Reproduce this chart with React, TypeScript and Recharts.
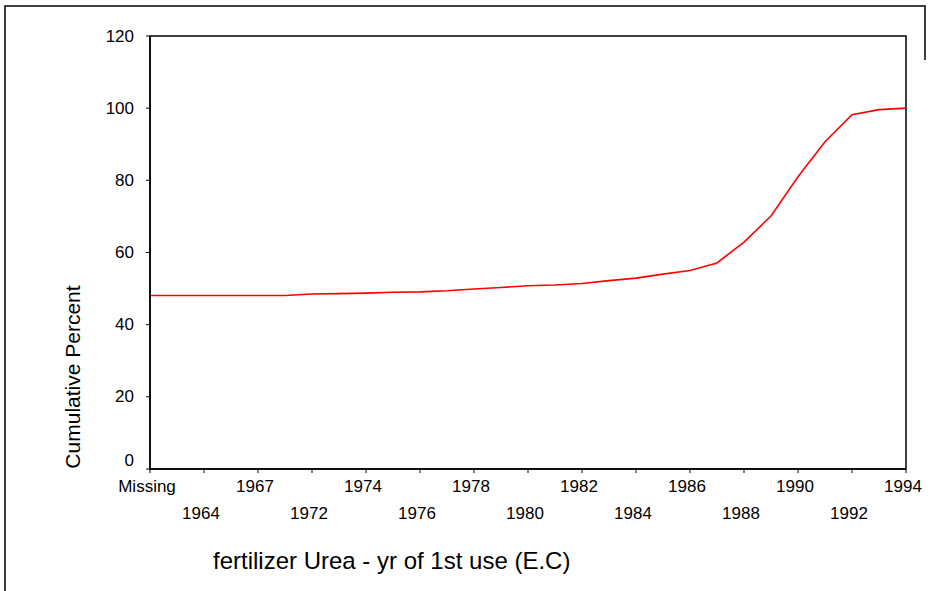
import React from 'react';
import { LineChart, Line, XAxis, YAxis, ReferenceArea } from 'recharts';

const categories = [
  'Missing', '1962', '1964', '1966', '1967', '1970',
  '1972', '1973', '1974', '1975', '1976', '1977', '1978', '1979', '1980',
  '1981', '1982', '1983', '1984', '1985', '1986', '1987', '1988', '1989',
  '1990', '1991', '1992', '1993', '1994',
];

const cumulativePercent = [
  48.1, 48.1, 48.1, 48.1, 48.1, 48.1,
  48.5, 48.6, 48.75, 49.0, 49.1, 49.4, 49.9, 50.3, 50.8,
  51.0, 51.4, 52.2, 52.9, 54.0, 55.0, 57.1, 62.9, 70.1,
  81.0, 90.7, 98.2, 99.6, 100,
];

const yTicks = [0, 20, 40, 60, 80, 100, 120];

const xTitle = 'fertilizer Urea - yr of 1st use (E.C)';
const yTitle = 'Cumulative Percent';

const data = categories.map((c, i) => ({ year: c, pct: cumulativePercent[i] }));

const FONT = '"Liberation Sans", Arial, sans-serif';

const XTick = (props: any) => {
  const { x, y, payload } = props;
  const idx = categories.indexOf(payload.value);
  const row = (idx / 2) % 2 === 0 ? 0 : 1;
  return (
    <text
      x={x - 3}
      y={y}
      dy={row === 0 ? 11 : 38}
      textAnchor="middle"
      dominantBaseline="central"
      fontSize={17}
      fontFamily={FONT}
      fill="#000"
    >
      {payload.value}
    </text>
  );
};

const YTick = (props: any) => {
  const { x, y, payload } = props;
  const shift = payload.value === 0 ? -9 : 0;
  return (
    <text
      x={x}
      y={y + shift}
      textAnchor="end"
      dominantBaseline="central"
      fontSize={17}
      fontFamily={FONT}
      fill="#000"
    >
      {payload.value}
    </text>
  );
};

export default function App() {
  return (
    <div style={{ position: 'relative', width: 932, height: 591, background: '#fff' }}>
      <style>{'body{margin:0;}'}</style>
      <LineChart
        width={932}
        height={591}
        data={data}
        margin={{ top: 36, right: 26, left: 90, bottom: 62 }}
      >
        <XAxis
          dataKey="year"
          interval={1}
          tickSize={4}
          tickMargin={2}
          height={60}
          tick={<XTick />}
          axisLine={{ stroke: '#000', strokeWidth: 1.5 }}
          tickLine={{ stroke: '#000' }}
        />
        <YAxis
          domain={[0, 120]}
          ticks={yTicks}
          width={60}
          tickSize={4}
          tickMargin={12}
          axisLine={{ stroke: '#000', strokeWidth: 1.5 }}
          tickLine={{ stroke: '#000' }}
          tick={<YTick />}
        />
        <ReferenceArea
          x1="Missing"
          x2="1994"
          y1={0}
          y2={120}
          fill="none"
          stroke="#000"
          strokeWidth={1.5}
          ifOverflow="visible"
        />
        <Line
          type="linear"
          dataKey="pct"
          stroke="#ff0000"
          strokeWidth={1.6}
          dot={false}
          isAnimationActive={false}
        />
      </LineChart>
      <svg
        width={932}
        height={591}
        style={{ position: 'absolute', left: 0, top: 0, pointerEvents: 'none' }}
      >
        <path d="M5,591 V6 H925 V60" fill="none" stroke="#000" strokeWidth={1.5} />
        <text
          transform="translate(80,377) rotate(-90)"
          textAnchor="middle"
          fontSize={21}
          fontFamily={FONT}
          fill="#000"
        >
          {yTitle}
        </text>
        <text x={213} y={569} fontSize={24} fontFamily={FONT} fill="#000">
          {xTitle}
        </text>
      </svg>
    </div>
  );
}
